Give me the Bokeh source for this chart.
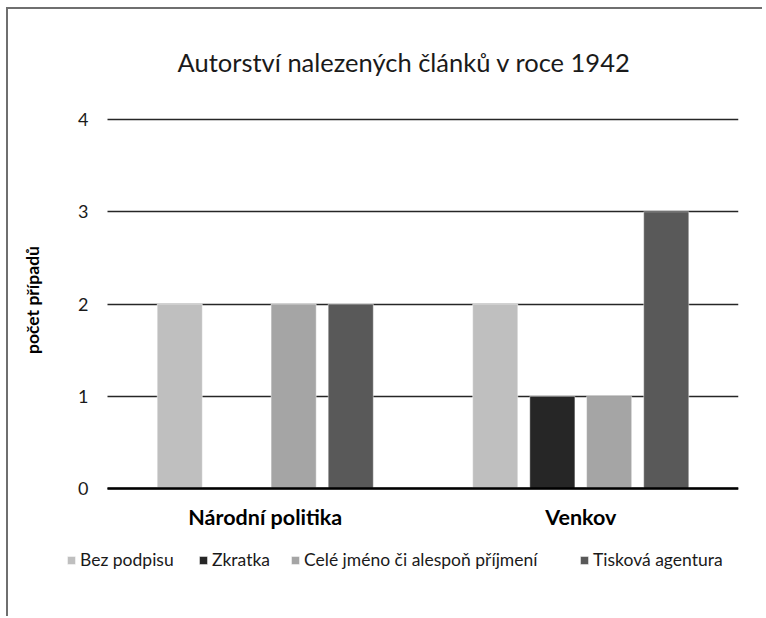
import numpy as np
from bokeh.plotting import figure
from bokeh.models import Range1d, FixedTicker, Legend, LegendItem
from bokeh.embed import file_html
from bokeh.resources import INLINE

categories = ["Národní politika", "Venkov"]
series_names = ["Bez podpisu", "Zkratka", "Celé jméno či alespoň příjmení", "Tisková agentura"]
bez_podpisu = [2, 2]
zkratka = [0, 1]
cele_jmeno = [2, 1]
tiskova_agentura = [2, 3]
y_ticks = [0, 1, 2, 3, 4]

series_values = [bez_podpisu, zkratka, cele_jmeno, tiskova_agentura]
colors = ["#BFBFBF", "#262626", "#A5A5A5", "#595959"]
offsets = [-0.271, -0.090, 0.090, 0.271]
FONT = "Lato"

n_cat = len(categories)
cat_centers = np.arange(n_cat) + 0.5

# frame spans page x 16..738 (categories occupy 107..738), page y 110..570 (0 at 488)
p = figure(
    x_range=Range1d(-0.2884, n_cat),
    y_range=Range1d(-0.8865, 4.0865),
    width=756, height=609,
    output_backend="svg", toolbar_location=None,
    title="Autorství nalezených článků v roce 1942",
    min_border_left=8, min_border_right=26, min_border_top=101, min_border_bottom=48,
)
p.styles = {"border-left": "2px solid #6f6f6f", "border-top": "2px solid #6f6f6f",
            "margin-left": "6px", "margin-top": "7px"}
p.outline_line_color = None
p.background_fill_color = "white"
p.border_fill_color = "white"

p.title.align = "left"
p.title.offset = 161
p.title.text_font = FONT
p.title.text_font_size = "25.5px"
p.title.text_font_style = "normal"
p.title.text_color = "#1a1a1a"
p.title.standoff = 70

renderers = []
for name, vals, col, off in zip(series_names, series_values, colors, offsets):
    src = {"x": cat_centers + off, "val": vals}
    r = p.vbar(x="x", top="val", width=0.143,
               source=src, fill_color=col, line_color="white", line_alpha=0.45, line_width=1)
    renderers.append(r)

p.ygrid.grid_line_color = "#262626"
p.ygrid.grid_line_width = 1.3
p.ygrid.cross_bounds = (0, n_cat)
p.xgrid.grid_line_color = None

p.yaxis.fixed_location = 0
p.yaxis.bounds = (0, 4.5)
p.yaxis.ticker = FixedTicker(ticks=y_ticks)
p.yaxis.axis_line_color = None
p.yaxis.major_tick_line_color = None
p.yaxis.minor_tick_line_color = None
p.yaxis.major_label_text_font = FONT
p.yaxis.major_label_text_font_size = "18px"
p.yaxis.major_label_text_color = "#1a1a1a"
p.yaxis.major_label_standoff = 13
p.yaxis.axis_label = "počet případů"
p.yaxis.axis_label_text_font = FONT
p.yaxis.axis_label_text_font_size = "17.5px"
p.yaxis.axis_label_text_font_style = "bold"
p.yaxis.axis_label_text_color = "black"
p.yaxis.axis_label_standoff = 32

p.xaxis.fixed_location = 0
p.xaxis.bounds = (0, n_cat)
p.xaxis.ticker = FixedTicker(ticks=list(cat_centers))
p.xaxis.major_label_overrides = {float(c): name for c, name in zip(cat_centers, categories)}
p.xaxis.axis_line_color = "black"
p.xaxis.axis_line_width = 2.5
p.xaxis.major_tick_line_color = None
p.xaxis.minor_tick_line_color = None
p.xaxis.major_label_text_font = FONT
p.xaxis.major_label_text_font_size = "21.5px"
p.xaxis.major_label_text_font_style = "bold"
p.xaxis.major_label_text_color = "black"
p.xaxis.major_label_standoff = 9

legend_x = [50, 182, 274, 563]
for name, r, lx in zip(series_names, renderers, legend_x):
    lg = Legend(items=[LegendItem(label=name, renderers=[r])], location=(lx, 0),
                orientation="horizontal", padding=0, margin=0, spacing=0,
                glyph_width=10, glyph_height=10, label_standoff=4,
                label_text_font=FONT, label_text_font_size="17.5px", label_text_color="#1a1a1a",
                border_line_color=None, background_fill_alpha=0)
    p.add_layout(lg, "center")

open("out.html", "w").write(file_html(p, INLINE))
